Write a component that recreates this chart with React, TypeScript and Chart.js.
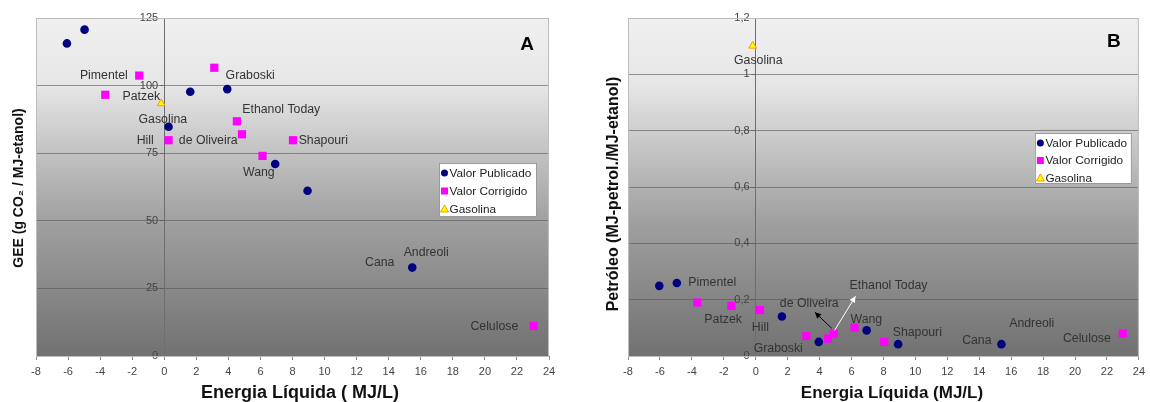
import React, { useEffect, useRef } from 'react';
import { Chart, registerables } from 'chart.js';
Chart.register(...registerables);

const FONT = '"Liberation Sans", Arial, sans-serif';

// ---------- Chart A data (GEE) ----------
const A_pubX = [-6.07, -4.97, 1.62, 3.93, 0.27, 6.92, 8.94, 15.47];
const A_pubY = [115.6, 120.7, 97.7, 98.7, 84.8, 71.0, 61.1, 32.7];
const A_corX = [-1.56, -3.68, 3.12, 4.53, 4.85, 0.27, 6.13, 8.03, 23.04];
const A_corY = [103.7, 96.6, 106.6, 86.8, 82.0, 79.8, 74.0, 79.8, 11.1];
const A_gasX = [-0.19];
const A_gasY = [93.4];
const A_labelText = ['Pimentel', 'Patzek', 'Gasolina', 'Hill', 'de Oliveira', 'Graboski', 'Ethanol Today', 'Shapouri', 'Wang', 'Cana', 'Andreoli', 'Celulose'];
const A_labelX = [-3.77, -1.43, -0.09, -1.19, 2.74, 5.36, 7.30, 9.92, 5.90, 13.44, 16.34, 20.59];
const A_labelY = [103.6, 95.8, 87.6, 79.5, 79.5, 103.6, 91.0, 79.5, 67.7, 34.4, 38.1, 10.7];

// ---------- Chart B data (Petróleo) ----------
const B_pubX = [-6.04, -4.94, 1.64, 3.95, 6.95, 8.92, 15.39];
const B_pubY = [0.249, 0.259, 0.140, 0.050, 0.091, 0.042, 0.042];
const B_corX = [-3.66, -1.53, 0.27, 3.17, 4.53, 4.89, 6.19, 8.05, 22.99];
const B_corY = [0.190, 0.178, 0.163, 0.071, 0.062, 0.080, 0.101, 0.050, 0.080];
const B_gasX = [-0.19];
const B_gasY = [1.101];
const B_labelText = ['Gasolina', 'Pimentel', 'Patzek', 'Hill', 'Graboski', 'de Oliveira', 'Ethanol Today', 'Wang', 'Shapouri', 'Cana', 'Andreoli', 'Celulose'];
const B_labelX = [0.16, -2.72, -2.04, 0.29, 1.41, 3.35, 8.32, 6.93, 10.12, 13.85, 17.29, 20.74];
const B_labelY = [1.048, 0.260, 0.131, 0.102, 0.028, 0.186, 0.251, 0.131, 0.082, 0.053, 0.115, 0.062];
const B_arrowFromX = [4.76, 4.94];
const B_arrowFromY = [0.0985, 0.091];
const B_arrowToX = [3.71, 6.25];
const B_arrowToY = [0.155, 0.212];
const B_arrowColor = ['#000000', '#ffffff'];

const seriesNames = ['Valor Publicado', 'Valor Corrigido', 'Gasolina'];
const xTicksMin = -8;
const xTicksMax = 24;

function drawMarker(ctx: CanvasRenderingContext2D, kind: number, x: number, y: number) {
  ctx.save();
  if (kind === 0) {
    ctx.fillStyle = '#000080';
    ctx.beginPath();
    ctx.arc(x, y, 3.5, 0, Math.PI * 2);
    ctx.fill();
  } else if (kind === 1) {
    ctx.fillStyle = '#ff00ff';
    ctx.fillRect(x - 3.5, y - 3.5, 7, 7);
  } else {
    ctx.fillStyle = '#ffff00';
    ctx.strokeStyle = '#ff9900';
    ctx.lineWidth = 1;
    ctx.beginPath();
    ctx.moveTo(x, y - 4);
    ctx.lineTo(x + 4, y + 3);
    ctx.lineTo(x - 4, y + 3);
    ctx.closePath();
    ctx.fill();
    ctx.stroke();
  }
  ctx.restore();
}

const decorPlugin = {
  id: 'decor',
  beforeDraw(chart: any, _args: any, o: any) {
    const { ctx, chartArea: ca } = chart;
    ctx.save();
    ctx.fillStyle = '#ffffff';
    ctx.fillRect(0, 0, chart.width, chart.height);
    const g = ctx.createLinearGradient(0, ca.top, 0, ca.bottom);
    g.addColorStop(0, '#f0f0f0');
    g.addColorStop(0.2, '#e6e6e6');
    g.addColorStop(0.4, '#c2c2c2');
    g.addColorStop(0.6, '#a0a0a0');
    g.addColorStop(0.8, '#898989');
    g.addColorStop(1, '#717171');
    ctx.fillStyle = g;
    ctx.fillRect(ca.left, ca.top, ca.right - ca.left, ca.bottom - ca.top);
    ctx.restore();
  },
  afterDatasetsDraw(chart: any, _args: any, o: any) {
    const { ctx } = chart;
    const xs = chart.scales.x;
    const ys = chart.scales.y;
    ctx.save();
    ctx.font = `12.3px ${FONT}`;
    ctx.fillStyle = '#333333';
    ctx.textAlign = 'center';
    ctx.textBaseline = 'middle';
    o.labelText.forEach((t: string, i: number) => {
      ctx.fillText(t, xs.getPixelForValue(o.labelX[i]), ys.getPixelForValue(o.labelY[i]));
    });
    // arrows
    (o.arrows || []).forEach((a: any) => {
      const x1 = xs.getPixelForValue(a.fx), y1 = ys.getPixelForValue(a.fy);
      const x2 = xs.getPixelForValue(a.tx), y2 = ys.getPixelForValue(a.ty);
      ctx.strokeStyle = a.c;
      ctx.fillStyle = a.c;
      ctx.lineWidth = 1;
      ctx.beginPath();
      ctx.moveTo(x1, y1);
      ctx.lineTo(x2, y2);
      ctx.stroke();
      const ang = Math.atan2(y2 - y1, x2 - x1);
      const L = 6, W = 3;
      ctx.beginPath();
      ctx.moveTo(x2, y2);
      ctx.lineTo(x2 - L * Math.cos(ang) + W * Math.sin(ang), y2 - L * Math.sin(ang) - W * Math.cos(ang));
      ctx.lineTo(x2 - L * Math.cos(ang) - W * Math.sin(ang), y2 - L * Math.sin(ang) + W * Math.cos(ang));
      ctx.closePath();
      ctx.fill();
    });
    ctx.restore();
  },
  afterDraw(chart: any, _args: any, o: any) {
    const { ctx, chartArea: ca } = chart;
    ctx.save();
    // plot frame
    ctx.strokeStyle = '#bdbdbd';
    ctx.lineWidth = 1;
    ctx.strokeRect(ca.left + 0.5, ca.top + 0.5, ca.right - ca.left - 1, ca.bottom - ca.top);
    // letter
    ctx.fillStyle = '#000';
    ctx.font = `bold 19px ${FONT}`;
    ctx.textAlign = 'center';
    ctx.textBaseline = 'middle';
    ctx.fillText(o.letter, ca.right - o.letterDx, ca.top + o.letterDy);
    // x title
    ctx.font = `bold ${o.xTitleSize}px ${FONT}`;
    ctx.fillStyle = '#111';
    ctx.fillText(o.xTitle, o.xTitleX, o.xTitleY);
    // y title
    ctx.save();
    ctx.translate(o.yTitleX, o.yTitleY);
    ctx.rotate(-Math.PI / 2);
    ctx.font = `bold ${o.yTitleSize}px ${FONT}`;
    ctx.fillText(o.yTitle, 0, 0);
    ctx.restore();
    // legend
    const lx = ca.right - o.legRight - o.legW;
    const ly = ca.top + o.legTop;
    ctx.fillStyle = '#ffffff';
    ctx.fillRect(lx, ly, o.legW, o.legH);
    ctx.strokeStyle = '#9a9a9a';
    ctx.strokeRect(lx + 0.5, ly + 0.5, o.legW - 1, o.legH - 1);
    ctx.font = `11.8px ${FONT}`;
    ctx.textAlign = 'left';
    seriesNames.forEach((n, i) => {
      const yy = ly + o.legPad + i * o.legStep;
      drawMarker(ctx, i, lx + 5.5, yy);
      ctx.fillStyle = '#222';
      ctx.fillText(n, lx + 10.5, yy + 0.5);
    });
    ctx.restore();
  },
};

function makeConfig(d: any, o: any): any {
  const pts = (xs: number[], ys: number[]) => xs.map((x, i) => ({ x, y: ys[i] }));
  return {
    type: 'scatter',
    data: {
      datasets: [
        { label: seriesNames[0], data: pts(d.pubX, d.pubY), pointStyle: 'circle', pointRadius: 4.3, backgroundColor: '#000080', borderColor: '#000080', borderWidth: 0 },
        { label: seriesNames[1], data: pts(d.corX, d.corY), pointStyle: 'rect', pointRadius: 5.8, backgroundColor: '#ff00ff', borderColor: '#ff00ff', borderWidth: 0 },
        { label: seriesNames[2], data: pts(d.gasX, d.gasY), pointStyle: 'triangle', pointRadius: 4.5, backgroundColor: '#ffff00', borderColor: '#ff9900', borderWidth: 1 },
      ],
    },
    options: {
      responsive: false,
      animation: false,
      devicePixelRatio: 1,
      layout: { padding: { left: o.padL, right: o.padR, top: o.padT, bottom: 0 } },
      plugins: { legend: { display: false }, tooltip: { enabled: false }, decor: o },
      scales: {
        x: {
          type: 'linear', min: xTicksMin, max: xTicksMax,
          ticks: { stepSize: 2, font: { size: 11, family: FONT }, color: '#444', padding: 5 },
          grid: { display: true, drawOnChartArea: false, drawTicks: true, tickLength: 4, color: '#8a8a8a' },
          border: { display: true, color: '#8a8a8a' },
          afterFit: (s: any) => { s.height = 46; },
        },
        y: {
          type: 'linear', min: 0, max: d.yMax, position: { x: 0 },
          ticks: { stepSize: d.yStep, font: { size: 11, family: FONT }, color: '#444', padding: 2, callback: d.fmt },
          grid: { color: 'rgba(85,85,85,0.6)', tickLength: 4, drawTicks: true },
          border: { display: true, color: '#6e6e6e' },
        },
      },
    },
    plugins: [decorPlugin],
  };
}

// trailing spaces keep the labels clear of the y axis crossing at x = 0
const fmtA = (v: number) => String(v) + '  ';
const fmtB = (v: number) => String(Number(v.toFixed(1))).replace('.', ',') + '  ';

export default function App() {
  const refA = useRef<HTMLCanvasElement>(null);
  const refB = useRef<HTMLCanvasElement>(null);
  useEffect(() => {
    const chA = new Chart(refA.current as HTMLCanvasElement, makeConfig(
      { pubX: A_pubX, pubY: A_pubY, corX: A_corX, corY: A_corY, gasX: A_gasX, gasY: A_gasY, yMax: 125, yStep: 25, fmt: fmtA },
      {
        padL: 36, padR: 26, padT: 18,
        labelText: A_labelText, labelX: A_labelX, labelY: A_labelY,
        letter: 'A', letterDx: 22, letterDy: 27,
        xTitle: 'Energia Líquida ( MJ/L)', xTitleX: 300, xTitleY: 393, xTitleSize: 18,
        yTitle: 'GEE (g CO\u2082 / MJ-etanol)', yTitleX: 19, yTitleY: 188, yTitleSize: 14,
        legRight: 12, legTop: 145, legW: 98, legH: 54, legPad: 10, legStep: 18,
      }
    ));
    const chB = new Chart(refB.current as HTMLCanvasElement, makeConfig(
      { pubX: B_pubX, pubY: B_pubY, corX: B_corX, corY: B_corY, gasX: B_gasX, gasY: B_gasY, yMax: 1.2, yStep: 0.2, fmt: fmtB },
      {
        padL: 53, padR: 7, padT: 18,
        labelText: B_labelText, labelX: B_labelX, labelY: B_labelY,
        arrows: B_arrowFromX.map((fx, i) => ({ fx, fy: B_arrowFromY[i], tx: B_arrowToX[i], ty: B_arrowToY[i], c: B_arrowColor[i] })),
        letter: 'B', letterDx: 25, letterDy: 24,
        xTitle: 'Energia Líquida (MJ/L)', xTitleX: 317, xTitleY: 393, xTitleSize: 17,
        yTitle: 'Petróleo (MJ-petrol./MJ-etanol)', yTitleX: 39, yTitleY: 194, yTitleSize: 16,
        legRight: 7, legTop: 115, legW: 97, legH: 51, legPad: 10, legStep: 17.5,
      }
    ));
    return () => { chA.destroy(); chB.destroy(); };
  }, []);
  return (
    <div style={{ position: 'absolute', left: 0, top: 0, width: 1150, height: 402, background: '#fff' }}>
      <canvas ref={refA} width={575} height={402} style={{ position: 'absolute', left: 0, top: 0, width: 575, height: 402 }} />
      <canvas ref={refB} width={575} height={402} style={{ position: 'absolute', left: 575, top: 0, width: 575, height: 402 }} />
    </div>
  );
}
